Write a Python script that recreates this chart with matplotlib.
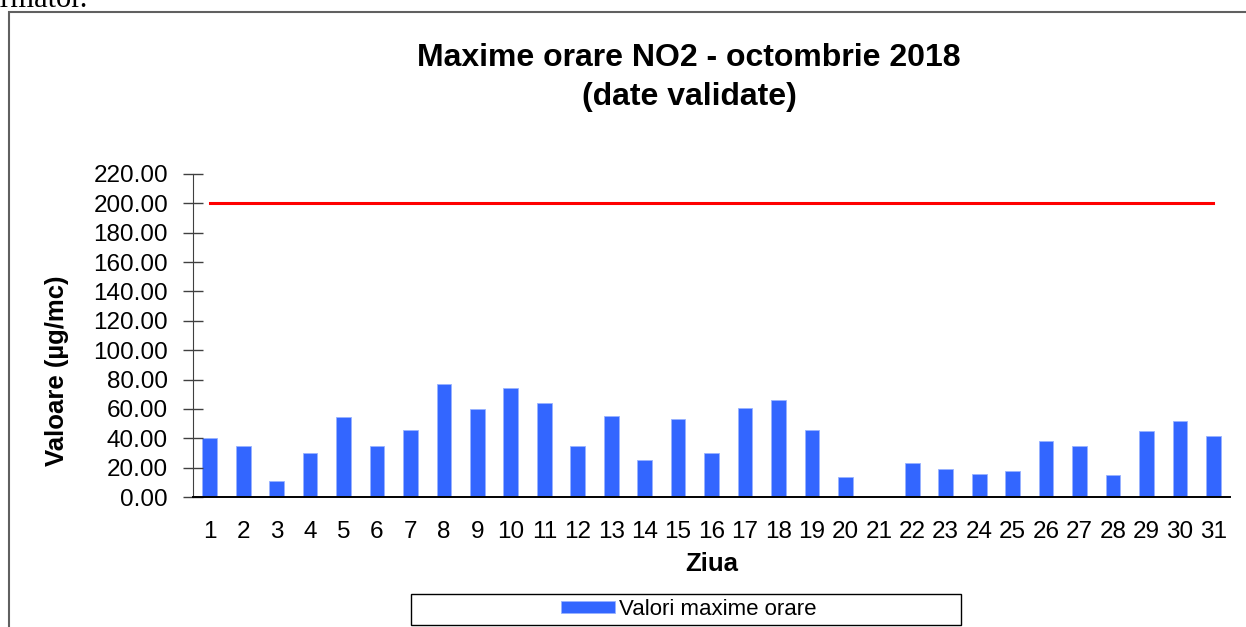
import matplotlib.pyplot as plt
from matplotlib.patches import Rectangle

days = list(range(1, 32))
no2_max = [40.0, 34.5, 10.7, 29.7, 54.6, 34.9, 45.8, 77.3, 60.1, 74.4,
           63.7, 34.9, 55.1, 25.0, 53.3, 29.7, 60.5, 66.0, 45.8, 13.4,
           0.0, 23.3, 18.8, 15.6, 17.5, 37.9, 34.9, 15.2, 45.1, 51.5, 41.7]
limit = [200.0] * len(days)
y_ticks = list(range(0, 221, 20))

plt.rcParams['font.family'] = ['Liberation Sans', 'DejaVu Sans']

fig = plt.figure(figsize=(12.46, 6.27), dpi=100)
ax = fig.add_axes([0.1549, 0.2073, 0.8323, 0.5152])

# border of the chart object and the cut-off line of text above it
fig.patches.append(Rectangle((9 / 1246, -0.05), 1.1, 1 - 12 / 627 + 0.05,
                             transform=fig.transFigure, fill=False,
                             edgecolor='#606060', lw=1.5))
fig.text(0.0706, 0.9888, "urmator.", ha='right', va='baseline',
         family='Liberation Serif', fontsize=22)

bars = ax.bar(days, no2_max, width=0.44, color='#3366FF',
              edgecolor='#99B3FF', lw=0.6, label='Valori maxime orare')
ax.plot(days, limit, color='#FF0000', lw=2.2)

ax.set_xlim(0.5, 31.5)
ax.set_ylim(0, 220)
ax.set_xticks(days)
ax.set_xticklabels([str(d) for d in days])
ax.set_yticks(y_ticks)
ax.set_yticklabels([f'{v:.2f}' for v in y_ticks])

for side in ['top', 'right']:
    ax.spines[side].set_visible(False)
ax.spines['left'].set_color('#404040')
ax.spines['bottom'].set_color('black')
ax.spines['bottom'].set_linewidth(1.4)
ax.tick_params(axis='y', direction='inout', length=15, width=1,
               color='#404040', labelsize=17.5, pad=10.5)
ax.tick_params(axis='x', length=0, labelsize=17.5, pad=17)

ax.set_xlabel('Ziua', fontsize=18.5, fontweight='bold', labelpad=7)
# Excel places the y title below the axis centre
fig.text(57 / 1246, 1 - 371 / 627, 'Valoare (µg/mc)', rotation=90,
         ha='center', va='center', fontsize=18.5, fontweight='bold')

fig.text(0.553, 0.877, 'Maxime orare NO2 - octombrie 2018\n(date validate)',
         ha='center', va='center', fontsize=23, fontweight='bold',
         linespacing=1.4)

# legend box is wider than its content, so frame drawn separately
fig.patches.append(Rectangle((0.3299, 0.0032), 0.4414, 0.0502,
                             transform=fig.transFigure, fill=False,
                             edgecolor='black', lw=1.0))
leg = fig.legend(handles=[bars], loc='center', bbox_to_anchor=(0.553, 0.0287),
                 fontsize=16, frameon=False, borderpad=0,
                 handlelength=2.4, handleheight=0.45, handletextpad=0.2)

fig.savefig('out.png', dpi=100)
